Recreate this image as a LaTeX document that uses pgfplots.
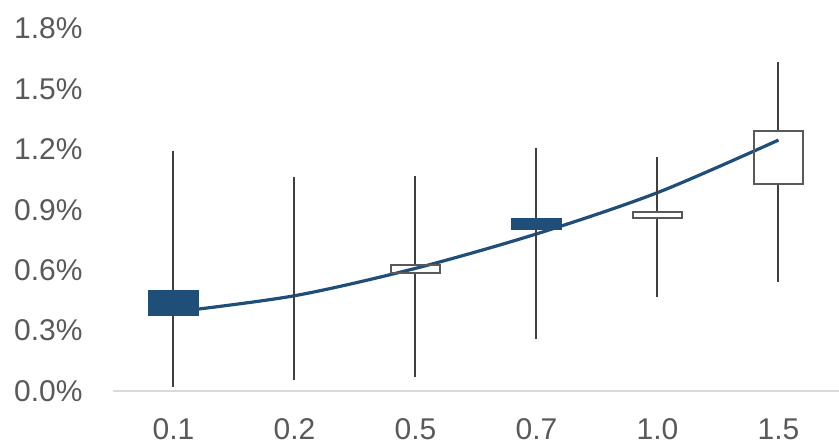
\documentclass[border=0pt]{standalone}
\usepackage{pgfplots}
\pgfplotsset{compat=1.18}
\usepgfplotslibrary{statistics}
\usepackage{fontspec}
\setmainfont{Liberation Sans}
\definecolor{cblue}{HTML}{1F4E79}
\definecolor{cgray}{HTML}{595959}
\definecolor{wgray}{HTML}{404040}
\definecolor{agray}{HTML}{D9D9D9}
\begin{document}
\begin{tikzpicture}
\path[use as bounding box] (-56.5bp,-25bp) rectangle (363bp,195.5bp);
\begin{axis}[
  scale only axis,
  width=363bp, height=181.25bp,
  at={(0,0)}, anchor=south west,
  xmin=-0.5, xmax=5.5,
  ymin=0, ymax=1.8,
  ytick={0,0.3,0.6,0.9,1.2,1.5,1.8},
  xtick={0,1,2,3,4,5},
  xticklabels={0.1,0.2,0.5,0.7,1.0,1.5},
  /pgf/number format/assume math mode=true,
  yticklabel={\pgfmathprintnumber[fixed,fixed zerofill,precision=1]{\tick}\%},
  axis lines*=left,
  y axis line style={draw=none},
  x axis line style={draw=agray, line width=1bp, -},
  major tick length=0pt,
  tick style={draw=none},
  ticklabel style={font=\fontsize{15bp}{18bp}\selectfont, text=cgray, inner sep=0pt},
  yticklabel style={anchor=east, xshift=-15bp},
  xticklabel style={anchor=north, yshift=-13.5bp},
  clip=false,
  boxplot/draw direction=y,
  boxplot/box extend=0.41,
  boxplot/whisker extend=0,
  boxplot/every whisker/.style={draw=wgray, line width=1bp},
  boxplot/every median/.style={draw=none},
]
% trend line
\addplot[cblue, line width=1.6bp, smooth, tension=0.5] coordinates {
  (0,0.392) (1,0.473) (2,0.609) (3,0.780) (4,0.985) (5,1.246)
};
% 0.1 (filled)
\addplot[fill=cblue, draw=cblue, line width=0.6bp,
  boxplot prepared={draw position=0, lower whisker=0.020, lower quartile=0.377,
  median=0.377, upper quartile=0.497, upper whisker=1.193}] coordinates {};
% 0.2 (whisker only)
\addplot[draw=none, fill=none,
  boxplot/every box/.style={draw=none, fill=none},
  boxplot prepared={draw position=1, lower whisker=0.055, lower quartile=0.473,
  median=0.473, upper quartile=0.473, upper whisker=1.064}] coordinates {};
% 0.5 (open)
\addplot[fill=none, draw=cgray, line width=1bp,
  boxplot prepared={draw position=2, lower whisker=0.071, lower quartile=0.587,
  median=0.587, upper quartile=0.627, upper whisker=1.069}] coordinates {};
% 0.7 (filled)
\addplot[fill=cblue, draw=cblue, line width=0.6bp,
  boxplot prepared={draw position=3, lower whisker=0.258, lower quartile=0.803,
  median=0.803, upper quartile=0.858, upper whisker=1.205}] coordinates {};
% 1.0 (open)
\addplot[fill=none, draw=cgray, line width=1bp,
  boxplot prepared={draw position=4, lower whisker=0.465, lower quartile=0.860,
  median=0.860, upper quartile=0.887, upper whisker=1.163}] coordinates {};
% 1.5 (open)
\addplot[fill=none, draw=cgray, line width=1bp,
  boxplot prepared={draw position=5, lower whisker=0.540, lower quartile=1.028,
  median=1.028, upper quartile=1.292, upper whisker=1.635}] coordinates {};
\end{axis}
\end{tikzpicture}
\end{document}
